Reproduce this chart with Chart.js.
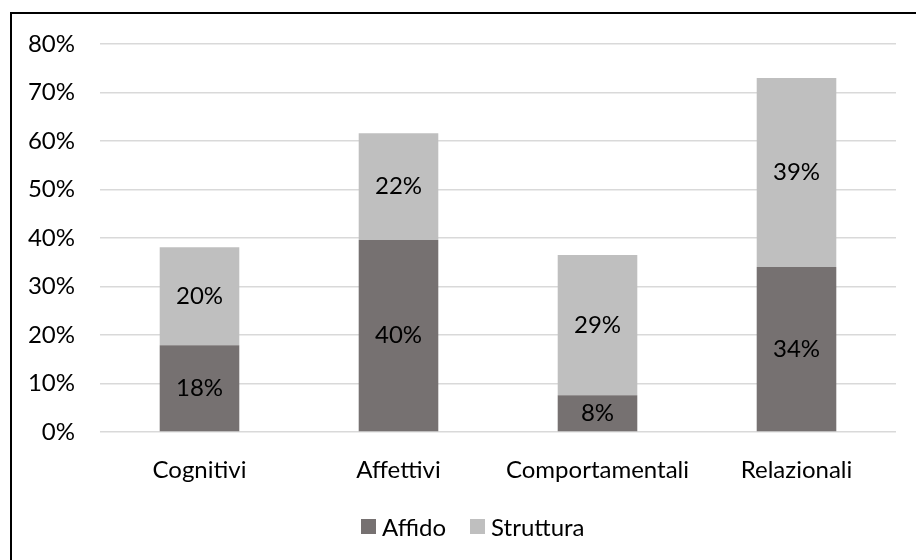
<!DOCTYPE html>
<html>
<head>
<meta charset="utf-8">
<script src="https://cdn.jsdelivr.net/npm/chart.js@4"></script>
<style>
  html, body { margin: 0; padding: 0; background: #fff; overflow: hidden; }
  #wrap { position: relative; width: 916px; height: 560px; }
  #frame { position: absolute; left: 10px; top: 12px; width: 930px; height: 580px; border: 2px solid #000; box-sizing: border-box; pointer-events: none; }
  #legend { position: absolute; left: 361px; top: 511px; height: 30px; display: flex; align-items: center; font: 24px Lato, Carlito, Calibri, sans-serif; color: #000; }
  #legend .item { display: flex; align-items: center; margin-right: 24px; }
  #legend .box { width: 15px; height: 15px; margin-right: 6px; }
</style>
</head>
<body>
<div id="wrap">
  <canvas id="chart" width="916" height="560"></canvas>
  <div id="legend"></div>
  <div id="frame"></div>
</div>
<script>
var categories = ['Cognitivi', 'Affettivi', 'Comportamentali', 'Relazionali'];
var affido = [17.9, 39.6, 7.6, 34.0];
var struttura = [20.2, 22.0, 28.9, 39.0];
var yTicks = [0, 10, 20, 30, 40, 50, 60, 70, 80];

var FONT = 'Lato, Carlito, Calibri, sans-serif';
var SIZE = 24;

// etichette dei valori al centro di ogni segmento
var valueLabels = {
    id: 'valueLabels',
    afterDatasetsDraw: function (chart) {
        var ctx = chart.ctx;
        ctx.save();
        ctx.font = SIZE + 'px ' + FONT;
        ctx.fillStyle = '#000';
        ctx.textAlign = 'center';
        ctx.textBaseline = 'middle';
        chart.data.datasets.forEach(function (ds, i) {
            chart.getDatasetMeta(i).data.forEach(function (bar, j) {
                var yMid = (bar.y + bar.base) / 2;
                ctx.fillText(Math.round(ds.data[j]) + '%', bar.x, yMid);
            });
        });
        ctx.restore();
    }
};

var chart = new Chart(document.getElementById('chart').getContext('2d'), {
    type: 'bar',
    data: {
        labels: categories,
        datasets: [
            { label: 'Affido', data: affido, backgroundColor: '#767171' },
            { label: 'Struttura', data: struttura, backgroundColor: '#bfbfbf' }
        ]
    },
    options: {
        responsive: false,
        animation: false,
        datasets: { bar: { barPercentage: 0.4, categoryPercentage: 1 } },
        layout: { padding: { left: 0, right: 20, top: 44, bottom: 0 } },
        plugins: {
            tooltip: { enabled: false },
            legend: { display: false }
        },
        scales: {
            x: {
                stacked: true,
                grid: { display: false },
                border: { display: false },
                ticks: { font: { family: FONT, size: SIZE }, color: '#000', padding: 16, maxRotation: 0 },
                afterFit: function (s) { s.height = 128; }
            },
            y: {
                stacked: true,
                min: 0,
                max: 80,
                afterBuildTicks: function (s) { s.ticks = yTicks.map(function (v) { return { value: v }; }); },
                grid: { color: '#d9d9d9', lineWidth: 1.5, drawTicks: false },
                border: { display: false },
                ticks: {
                    font: { family: FONT, size: SIZE },
                    color: '#000',
                    padding: 25,
                    callback: function (v) { return v + '%'; }
                },
                afterFit: function (s) { s.width = 100; }
            }
        }
    },
    plugins: [valueLabels]
});

// legenda costruita dai dataset del grafico
var legendEl = document.getElementById('legend');
chart.data.datasets.forEach(function (ds) {
    var item = document.createElement('span');
    item.className = 'item';
    var box = document.createElement('span');
    box.className = 'box';
    box.style.background = ds.backgroundColor;
    item.appendChild(box);
    item.appendChild(document.createTextNode(ds.label));
    legendEl.appendChild(item);
});
</script>
</body>
</html>
